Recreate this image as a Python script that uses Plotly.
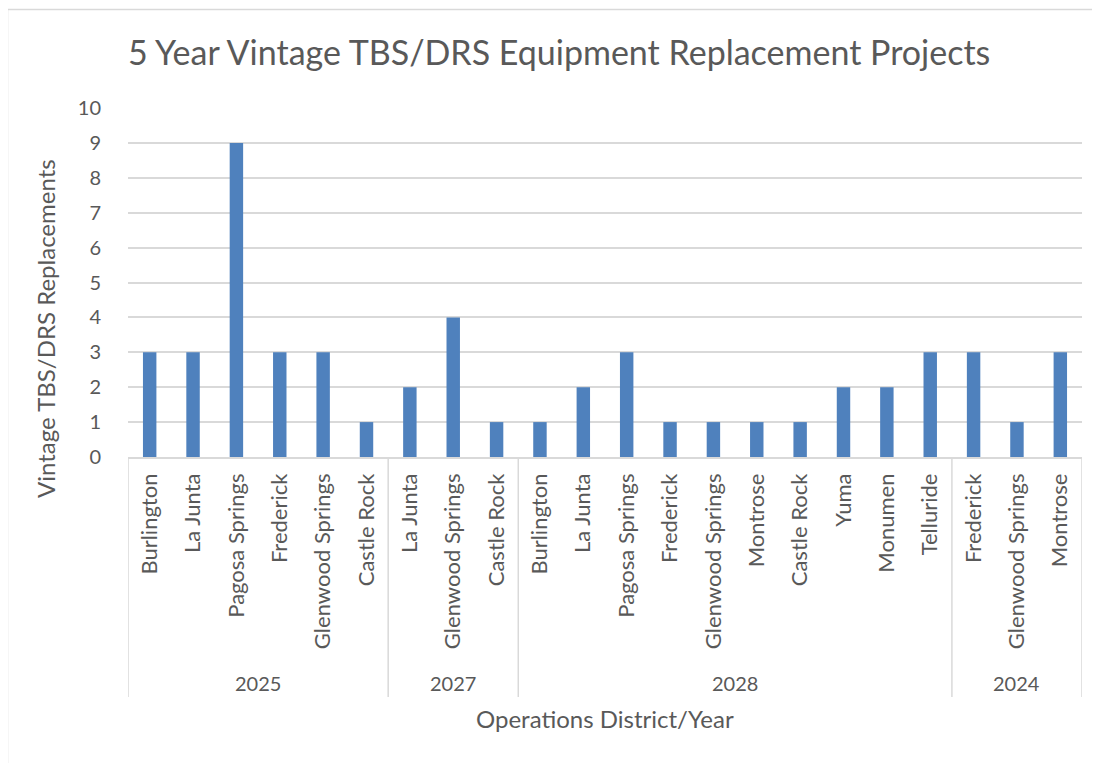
import plotly.graph_objects as go

# ---- data ----
years = ["2025", "2027", "2028", "2024"]
districts_2025 = ["Burlington", "La Junta", "Pagosa Springs", "Frederick", "Glenwood Springs", "Castle Rock"]
values_2025 = [3, 3, 9, 3, 3, 1]
districts_2027 = ["La Junta", "Glenwood Springs", "Castle Rock"]
values_2027 = [2, 4, 1]
districts_2028 = ["Burlington", "La Junta", "Pagosa Springs", "Frederick", "Glenwood Springs",
                  "Montrose", "Castle Rock", "Yuma", "Monumen", "Telluride"]
values_2028 = [1, 2, 3, 1, 1, 1, 1, 2, 2, 3]
districts_2024 = ["Frederick", "Glenwood Springs", "Montrose"]
values_2024 = [3, 1, 3]
y_ticks = [0, 1, 2, 3, 4, 5, 6, 7, 8, 9, 10]

title_text = "5 Year Vintage TBS/DRS Equipment Replacement Projects"
x_title = "Operations District/Year"
y_title = "Vintage TBS/DRS Replacements"

groups = [
    (years[0], districts_2025, values_2025),
    (years[1], districts_2027, values_2027),
    (years[2], districts_2028, values_2028),
    (years[3], districts_2024, values_2024),
]

names, vals, spans = [], [], []
for yr, ds, vs in groups:
    start = len(names)
    names.extend(ds)
    vals.extend(vs)
    spans.append((yr, start, len(names) - 1))
xpos = list(range(len(names)))

TEXT = "#595959"
GRID = "#D9D9D9"
BAR = "#4F81BD"
FONT = "Lato"

OFF = 8  # page body margin
W, H = 1100 - OFF, 763 - OFF
ML, MR, MT, MB = 128 - OFF, 18, 108 - OFF, 306
PH = H - MT - MB
PW = W - ML - MR

def py(pix):  # screen pixel y -> paper y
    return (H - MB - (pix - OFF)) / PH

def px(pix):  # screen pixel x -> paper x
    return (pix - OFF - ML) / PW

fig = go.Figure()
fig.add_trace(go.Bar(x=xpos, y=vals, marker=dict(color=BAR, line=dict(width=0)),
                     hovertext=names, showlegend=False))

shapes = []
bounds = [spans[0][1] - 0.5] + [s[2] + 0.5 for s in spans]
for b in bounds:
    shapes.append(dict(type="line", xref="x", yref="paper", x0=b, x1=b,
                       y0=0, y1=py(697), line=dict(color=GRID, width=1.5)))
# chart outer border (left & top)
shapes.append(dict(type="line", xref="paper", yref="paper", x0=px(7.5), x1=px(1110),
                   y0=py(9.5), y1=py(9.5), line=dict(color=GRID, width=1.5)))
shapes.append(dict(type="line", xref="paper", yref="paper", x0=px(7.5), x1=px(7.5),
                   y0=py(9.5), y1=py(780), line=dict(color=GRID, width=1.5)))

annotations = []
for yr, s, e in spans:
    annotations.append(dict(x=(s + e) / 2, xref="x", y=py(683), yref="paper",
                            text=yr, showarrow=False, xanchor="center", yanchor="middle",
                            font=dict(family=FONT, size=20, color=TEXT)))
annotations.append(dict(x=0.5, xref="paper", y=py(718), yref="paper", text=x_title,
                        showarrow=False, xanchor="center", yanchor="middle",
                        font=dict(family=FONT, size=24, color=TEXT)))
annotations.append(dict(x=px(45), xref="paper", y=py(329), yref="paper", text=y_title,
                        showarrow=False, xanchor="center", yanchor="middle", textangle=-90,
                        font=dict(family=FONT, size=24, color=TEXT)))

fig.update_layout(
    width=W, height=H,
    margin=dict(l=ML, r=MR, t=MT, b=MB, pad=0),
    paper_bgcolor="white", plot_bgcolor="white",
    bargap=0.69,
    title=dict(text=title_text, x=(128 - OFF) / W, xanchor="left", xref="container",
               y=1 - (53 - OFF) / H, yanchor="middle", yref="container",
               font=dict(family=FONT, size=34, color=TEXT)),
    xaxis=dict(range=[-0.5, len(names) - 0.5], tickmode="array", tickvals=xpos,
               ticktext=names, tickangle=-90, showgrid=False, zeroline=False,
               showline=True, linecolor=GRID, linewidth=1.5, ticks="",
               ticklabelstandoff=6,
               tickfont=dict(family=FONT, size=22, color=TEXT), fixedrange=True),
    yaxis=dict(range=[0, 10], tickmode="array", tickvals=y_ticks,
               ticktext=[str(v) for v in y_ticks], showgrid=True, gridcolor=GRID,
               gridwidth=1.5, zeroline=False, showline=False, ticks="",
               ticklabelstandoff=26,
               tickfont=dict(family=FONT, size=20, color=TEXT), fixedrange=True),
    shapes=shapes, annotations=annotations,
)

fig.write_html("out.html")
